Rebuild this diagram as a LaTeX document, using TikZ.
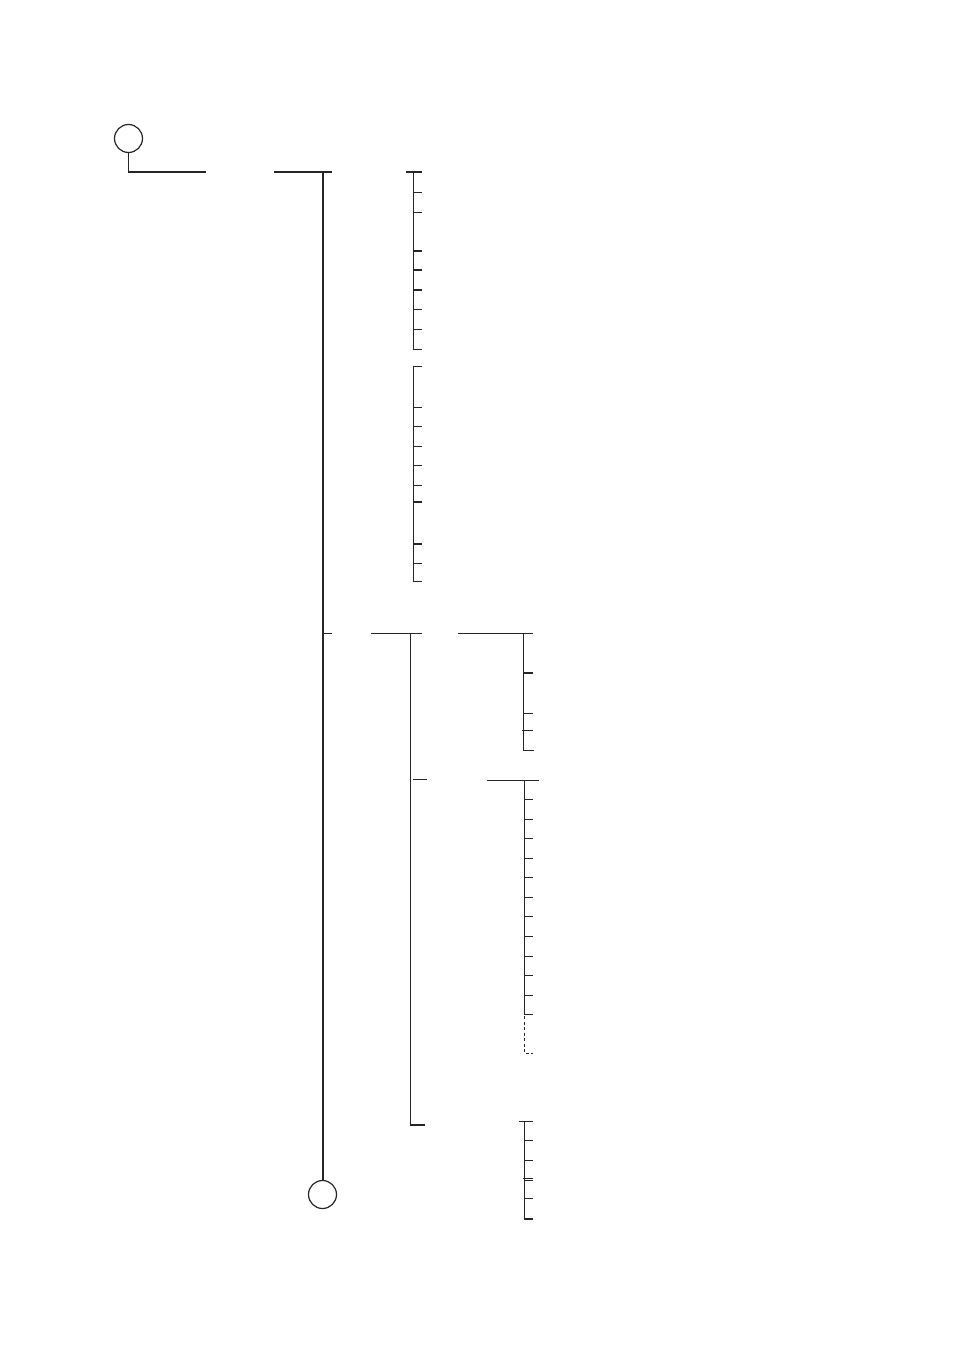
\documentclass[tikz,border=0pt]{standalone}
\begin{document}
\begin{tikzpicture}[x=1pt,y=-1pt,
  ln/.style={line width=1.2pt,black!85},
  ring/.style={circle,draw,line width=1.2pt,black!85,minimum size=28pt,inner sep=0pt}]
\useasboundingbox (0,0) rectangle (954,1351);
% circles
\node[ring] (top) at (128.5,138.5) {};
\node[ring] (bot) at (322.5,1194.5) {};
% root connector
\coordinate (r1) at (128.5,172);
\draw[ln] (top.south) -- (r1) -- (206,172);
\draw[ln] (274,172) -- (332,172);
\coordinate (mtop) at (323,172);
\draw[ln] (mtop) -- (mtop |- bot.north);
% group 1
\draw[ln] (406,172) -- (422,172);
\draw[ln] (413.3,172) -- (413.3,349.3) -- (422,349.3);
\foreach \y in {192.3,212.3,251,270,290,309.3,329.3}
  \draw[ln] (413.3,\y) -- (422,\y);
% group 2
\draw[ln] (422,366.3) -- (413.3,366.3) -- (413.3,581.3) -- (422,581.3);
\foreach \y in {407.3,426.3,446.3,465.3,485.3,502,544,563.3}
  \draw[ln] (413.3,\y) -- (422,\y);
% second branch
\draw[ln] (323,633.3) -- (331.7,633.3);
\draw[ln] (371,633.3) -- (421.7,633.3);
\draw[ln] (410.5,633.3) -- (410.5,1125) -- (425,1125);
\draw[ln] (412.7,779.3) -- (426.7,779.3);
% sub group A
\draw[ln] (458,633.3) -- (532.7,633.3);
\draw[ln] (523.3,633.3) -- (523.3,750.3) -- (534,750.3);
\foreach \y in {673,713.7}
  \draw[ln] (523.3,\y) -- (532.7,\y);
\draw[ln] (521.7,730.3) -- (532.7,730.3);
% sub group B
\draw[ln] (487,780.3) -- (539,780.3);
\draw[ln] (524.3,780.3) -- (524.3,1014.3);
\foreach \y in {799.3,819.3,838.3,858.3,877.3,897.3,916.3,936.3,956.3,975.3,995.3,1014.3}
  \draw[ln] (524.3,\y) -- (532.7,\y);
\draw[ln,dashed,dash pattern=on 3pt off 2.5pt] (524.3,1016) -- (524.3,1053.3) -- (533,1053.3);
% sub group C
\draw[ln] (519.3,1121.3) -- (532.7,1121.3);
\draw[ln] (524.3,1121.3) -- (524.3,1219) -- (532.7,1219);
\foreach \y in {1140.3,1160.3,1180.3,1198.3}
  \draw[ln] (524.3,\y) -- (532.7,\y);
\draw[ln] (523,1178.3) -- (532.7,1178.3);
\end{tikzpicture}
\end{document}
